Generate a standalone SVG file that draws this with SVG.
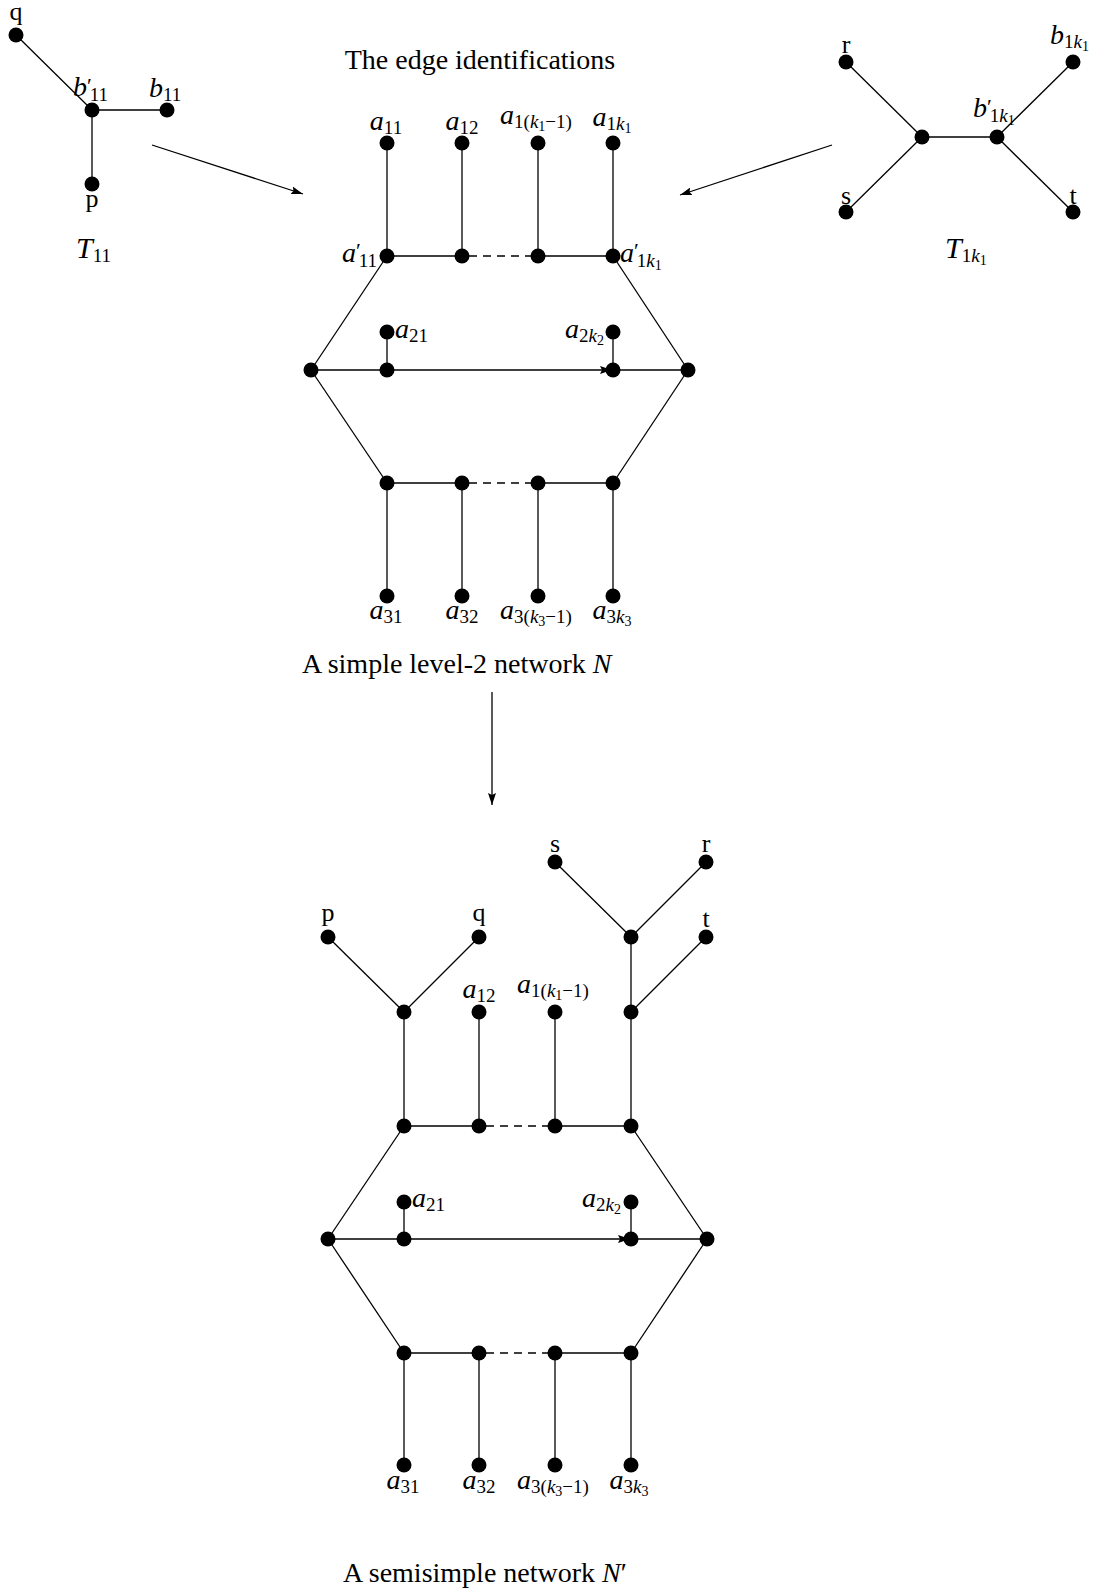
<svg xmlns="http://www.w3.org/2000/svg" width="1099" height="1589" viewBox="0 0 1099 1589">
<style>
text{font-family:"Liberation Serif","Times New Roman",serif;fill:#000;font-size:26px}
.cap{font-size:28px}
.i{font-style:italic}
.a{font-size:28px;font-style:italic}
.s{font-size:19px}
.ss{font-size:14px}
.pr{font-size:22px}
.e{stroke:#000;stroke-width:1.3;fill:none}
.d{stroke:#000;stroke-width:1.3;stroke-dasharray:8 6;fill:none}
.n{fill:#000}
</style>
<defs>
<marker id="ah" viewBox="0 0 12 8" refX="12" refY="4" markerWidth="12" markerHeight="8" markerUnits="userSpaceOnUse" orient="auto">
<path d="M0,0 L12,4 L0,8 L2,4 z" fill="#000"/>
</marker>
</defs>

<g id="connectors">
<line class="e" x1="16" y1="35" x2="92" y2="110"/>
<line class="e" x1="92" y1="110" x2="167" y2="110"/>
<line class="e" x1="92" y1="110" x2="92" y2="184"/>
<line class="e" x1="846" y1="62" x2="922" y2="137"/>
<line class="e" x1="846" y1="212" x2="922" y2="137"/>
<line class="e" x1="922" y1="137" x2="997" y2="137"/>
<line class="e" x1="997" y1="137" x2="1073" y2="62"/>
<line class="e" x1="997" y1="137" x2="1073" y2="212"/>
<line class="e" x1="152" y1="145" x2="303" y2="194" marker-end="url(#ah)"/>
<line class="e" x1="832" y1="145" x2="680" y2="195" marker-end="url(#ah)"/>
<line class="e" x1="492" y1="692" x2="492" y2="805" marker-end="url(#ah)"/>
<line class="e" x1="387" y1="143" x2="387" y2="256"/>
<line class="e" x1="462" y1="143" x2="462" y2="256"/>
<line class="e" x1="538" y1="143" x2="538" y2="256"/>
<line class="e" x1="613" y1="143" x2="613" y2="256"/>
<line class="e" x1="387" y1="256" x2="462" y2="256"/>
<line class="d" x1="469" y1="256" x2="538" y2="256"/>
<line class="e" x1="538" y1="256" x2="613" y2="256"/>
<line class="e" x1="387" y1="256" x2="311" y2="370"/>
<line class="e" x1="613" y1="256" x2="688" y2="370"/>
<line class="e" x1="311" y1="370" x2="387" y2="483"/>
<line class="e" x1="688" y1="370" x2="613" y2="483"/>
<line class="e" x1="311" y1="370" x2="387" y2="370"/>
<line class="e" x1="387" y1="370" x2="612" y2="370" marker-end="url(#ah)"/>
<line class="e" x1="613" y1="370" x2="688" y2="370"/>
<line class="e" x1="387" y1="332" x2="387" y2="370"/>
<line class="e" x1="613" y1="332" x2="613" y2="370"/>
<line class="e" x1="387" y1="483" x2="462" y2="483"/>
<line class="d" x1="469" y1="483" x2="538" y2="483"/>
<line class="e" x1="538" y1="483" x2="613" y2="483"/>
<line class="e" x1="387" y1="483" x2="387" y2="596"/>
<line class="e" x1="462" y1="483" x2="462" y2="596"/>
<line class="e" x1="538" y1="483" x2="538" y2="596"/>
<line class="e" x1="613" y1="483" x2="613" y2="596"/>
<line class="e" x1="328" y1="937" x2="404" y2="1012"/>
<line class="e" x1="479" y1="937" x2="404" y2="1012"/>
<line class="e" x1="555" y1="862" x2="631" y2="937"/>
<line class="e" x1="706" y1="862" x2="631" y2="937"/>
<line class="e" x1="631" y1="937" x2="631" y2="1012"/>
<line class="e" x1="706" y1="937" x2="631" y2="1012"/>
<line class="e" x1="404" y1="1012" x2="404" y2="1126"/>
<line class="e" x1="479" y1="1012" x2="479" y2="1126"/>
<line class="e" x1="555" y1="1012" x2="555" y2="1126"/>
<line class="e" x1="631" y1="1012" x2="631" y2="1126"/>
<line class="e" x1="404" y1="1126" x2="479" y2="1126"/>
<line class="d" x1="486" y1="1126" x2="555" y2="1126"/>
<line class="e" x1="555" y1="1126" x2="631" y2="1126"/>
<line class="e" x1="404" y1="1126" x2="328" y2="1239"/>
<line class="e" x1="631" y1="1126" x2="707" y2="1239"/>
<line class="e" x1="328" y1="1239" x2="404" y2="1353"/>
<line class="e" x1="707" y1="1239" x2="631" y2="1353"/>
<line class="e" x1="328" y1="1239" x2="404" y2="1239"/>
<line class="e" x1="404" y1="1239" x2="630" y2="1239" marker-end="url(#ah)"/>
<line class="e" x1="631" y1="1239" x2="707" y2="1239"/>
<line class="e" x1="404" y1="1202" x2="404" y2="1239"/>
<line class="e" x1="631" y1="1202" x2="631" y2="1239"/>
<line class="e" x1="404" y1="1353" x2="479" y2="1353"/>
<line class="d" x1="486" y1="1353" x2="555" y2="1353"/>
<line class="e" x1="555" y1="1353" x2="631" y2="1353"/>
<line class="e" x1="404" y1="1353" x2="404" y2="1465"/>
<line class="e" x1="479" y1="1353" x2="479" y2="1465"/>
<line class="e" x1="555" y1="1353" x2="555" y2="1465"/>
<line class="e" x1="631" y1="1353" x2="631" y2="1465"/>
</g>

<g id="t11-q"><circle class="n" cx="16" cy="35" r="7.5"/><text x="16" y="20" text-anchor="middle">q</text></g>
<g id="t11-b11p"><circle class="n" cx="92" cy="110" r="7.5"/><text x="73" y="96"><tspan class="a">b</tspan><tspan class="pr" dy="-3">′</tspan><tspan class="s" dx="-2" dy="8">11</tspan></text></g>
<g id="t11-b11"><circle class="n" cx="167" cy="110" r="7.5"/><text x="149" y="97"><tspan class="a">b</tspan><tspan class="s" dy="4">11</tspan></text></g>
<g id="t11-p"><circle class="n" cx="92" cy="184" r="7.5"/><text x="92" y="207" text-anchor="middle">p</text></g>
<g id="t11-label"><text class="cap" x="76" y="258"><tspan class="i" font-size="30">T</tspan><tspan class="s" dy="4">11</tspan></text></g>

<g id="t1k-r"><circle class="n" cx="846" cy="62" r="7.5"/><text x="846" y="53" text-anchor="middle">r</text></g>
<g id="t1k-u"><circle class="n" cx="922" cy="137" r="7.5"/></g>
<g id="t1k-bp"><circle class="n" cx="997" cy="137" r="7.5"/><text x="973" y="117"><tspan class="a">b</tspan><tspan class="pr" dy="-3">′</tspan><tspan class="s" dx="-2" dy="8">1</tspan><tspan class="s i">k</tspan><tspan class="ss" dy="3">1</tspan></text></g>
<g id="t1k-b"><circle class="n" cx="1073" cy="62" r="7.5"/><text x="1050" y="44"><tspan class="a">b</tspan><tspan class="s" dy="4">1</tspan><tspan class="s i">k</tspan><tspan class="ss" dy="3">1</tspan></text></g>
<g id="t1k-s"><circle class="n" cx="846" cy="212" r="7.5"/><text x="846" y="204" text-anchor="middle">s</text></g>
<g id="t1k-t"><circle class="n" cx="1073" cy="212" r="7.5"/><text x="1073" y="204" text-anchor="middle">t</text></g>
<g id="t1k-label"><text class="cap" x="945" y="258"><tspan class="i" font-size="30">T</tspan><tspan class="s" dy="4">1</tspan><tspan class="s i">k</tspan><tspan class="ss" dy="3">1</tspan></text></g>

<g id="title"><text class="cap" x="480" y="69" text-anchor="middle">The edge identifications</text></g>

<g id="n-a11"><circle class="n" cx="387" cy="143" r="7.5"/><text x="386" y="130" text-anchor="middle"><tspan class="a">a</tspan><tspan class="s" dy="4">11</tspan></text></g>
<g id="n-a12"><circle class="n" cx="462" cy="143" r="7.5"/><text x="462" y="130" text-anchor="middle"><tspan class="a">a</tspan><tspan class="s" dy="4">12</tspan></text></g>
<g id="n-a1k-1"><circle class="n" cx="538" cy="143" r="7.5"/><text x="536" y="124" text-anchor="middle"><tspan class="a">a</tspan><tspan class="s" dy="4">1(</tspan><tspan class="s i">k</tspan><tspan class="ss" dy="3">1</tspan><tspan class="s" dy="-3">−1)</tspan></text></g>
<g id="n-a1k"><circle class="n" cx="613" cy="143" r="7.5"/><text x="612" y="126" text-anchor="middle"><tspan class="a">a</tspan><tspan class="s" dy="4">1</tspan><tspan class="s i">k</tspan><tspan class="ss" dy="3">1</tspan></text></g>
<g id="n-ap11"><circle class="n" cx="387" cy="256" r="7.5"/><text x="377" y="262" text-anchor="end"><tspan class="a">a</tspan><tspan class="pr" dy="-4">′</tspan><tspan class="s" dx="-2" dy="9">11</tspan></text></g>
<g id="n-r2"><circle class="n" cx="462" cy="256" r="7.5"/></g>
<g id="n-r3"><circle class="n" cx="538" cy="256" r="7.5"/></g>
<g id="n-ap1k"><circle class="n" cx="613" cy="256" r="7.5"/><text x="620" y="262"><tspan class="a">a</tspan><tspan class="pr" dy="-4">′</tspan><tspan class="s" dx="-2" dy="9">1</tspan><tspan class="s i">k</tspan><tspan class="ss" dy="3">1</tspan></text></g>
<g id="n-L"><circle class="n" cx="311" cy="370" r="7.5"/></g>
<g id="n-m1"><circle class="n" cx="387" cy="370" r="7.5"/></g>
<g id="n-m2"><circle class="n" cx="613" cy="370" r="7.5"/></g>
<g id="n-R"><circle class="n" cx="688" cy="370" r="7.5"/></g>
<g id="n-a21"><circle class="n" cx="387" cy="332" r="7.5"/><text x="395" y="338"><tspan class="a">a</tspan><tspan class="s" dy="4">21</tspan></text></g>
<g id="n-a2k"><circle class="n" cx="613" cy="332" r="7.5"/><text x="604" y="338" text-anchor="end"><tspan class="a">a</tspan><tspan class="s" dy="4">2</tspan><tspan class="s i">k</tspan><tspan class="ss" dy="3">2</tspan></text></g>
<g id="n-b1"><circle class="n" cx="387" cy="483" r="7.5"/></g>
<g id="n-b2"><circle class="n" cx="462" cy="483" r="7.5"/></g>
<g id="n-b3"><circle class="n" cx="538" cy="483" r="7.5"/></g>
<g id="n-b4"><circle class="n" cx="613" cy="483" r="7.5"/></g>
<g id="n-a31"><circle class="n" cx="387" cy="596" r="7.5"/><text x="386" y="619" text-anchor="middle"><tspan class="a">a</tspan><tspan class="s" dy="4">31</tspan></text></g>
<g id="n-a32"><circle class="n" cx="462" cy="596" r="7.5"/><text x="462" y="619" text-anchor="middle"><tspan class="a">a</tspan><tspan class="s" dy="4">32</tspan></text></g>
<g id="n-a3k-1"><circle class="n" cx="538" cy="596" r="7.5"/><text x="536" y="619" text-anchor="middle"><tspan class="a">a</tspan><tspan class="s" dy="4">3(</tspan><tspan class="s i">k</tspan><tspan class="ss" dy="3">3</tspan><tspan class="s" dy="-3">−1)</tspan></text></g>
<g id="n-a3k"><circle class="n" cx="613" cy="596" r="7.5"/><text x="612" y="619" text-anchor="middle"><tspan class="a">a</tspan><tspan class="s" dy="4">3</tspan><tspan class="s i">k</tspan><tspan class="ss" dy="3">3</tspan></text></g>
<g id="caption-n"><text class="cap" x="302" y="673">A simple level-2 network <tspan class="i">N</tspan></text></g>

<g id="m-p"><circle class="n" cx="328" cy="937" r="7.5"/><text x="328" y="921" text-anchor="middle">p</text></g>
<g id="m-q"><circle class="n" cx="479" cy="937" r="7.5"/><text x="479" y="921" text-anchor="middle">q</text></g>
<g id="m-j1"><circle class="n" cx="404" cy="1012" r="7.5"/></g>
<g id="m-s"><circle class="n" cx="555" cy="862" r="7.5"/><text x="555" y="852" text-anchor="middle">s</text></g>
<g id="m-r"><circle class="n" cx="706" cy="862" r="7.5"/><text x="706" y="852" text-anchor="middle">r</text></g>
<g id="m-j2"><circle class="n" cx="631" cy="937" r="7.5"/></g>
<g id="m-t"><circle class="n" cx="706" cy="937" r="7.5"/><text x="706" y="927" text-anchor="middle">t</text></g>
<g id="m-j3"><circle class="n" cx="631" cy="1012" r="7.5"/></g>
<g id="m-a12"><circle class="n" cx="479" cy="1012" r="7.5"/><text x="479" y="998" text-anchor="middle"><tspan class="a">a</tspan><tspan class="s" dy="4">12</tspan></text></g>
<g id="m-a1k-1"><circle class="n" cx="555" cy="1012" r="7.5"/><text x="553" y="993" text-anchor="middle"><tspan class="a">a</tspan><tspan class="s" dy="4">1(</tspan><tspan class="s i">k</tspan><tspan class="ss" dy="3">1</tspan><tspan class="s" dy="-3">−1)</tspan></text></g>
<g id="m-r1"><circle class="n" cx="404" cy="1126" r="7.5"/></g>
<g id="m-r2"><circle class="n" cx="479" cy="1126" r="7.5"/></g>
<g id="m-r3"><circle class="n" cx="555" cy="1126" r="7.5"/></g>
<g id="m-r4"><circle class="n" cx="631" cy="1126" r="7.5"/></g>
<g id="m-L"><circle class="n" cx="328" cy="1239" r="7.5"/></g>
<g id="m-m1"><circle class="n" cx="404" cy="1239" r="7.5"/></g>
<g id="m-m2"><circle class="n" cx="631" cy="1239" r="7.5"/></g>
<g id="m-R"><circle class="n" cx="707" cy="1239" r="7.5"/></g>
<g id="m-a21"><circle class="n" cx="404" cy="1202" r="7.5"/><text x="412" y="1207"><tspan class="a">a</tspan><tspan class="s" dy="4">21</tspan></text></g>
<g id="m-a2k"><circle class="n" cx="631" cy="1202" r="7.5"/><text x="621" y="1207" text-anchor="end"><tspan class="a">a</tspan><tspan class="s" dy="4">2</tspan><tspan class="s i">k</tspan><tspan class="ss" dy="3">2</tspan></text></g>
<g id="m-b1"><circle class="n" cx="404" cy="1353" r="7.5"/></g>
<g id="m-b2"><circle class="n" cx="479" cy="1353" r="7.5"/></g>
<g id="m-b3"><circle class="n" cx="555" cy="1353" r="7.5"/></g>
<g id="m-b4"><circle class="n" cx="631" cy="1353" r="7.5"/></g>
<g id="m-a31"><circle class="n" cx="404" cy="1465" r="7.5"/><text x="403" y="1489" text-anchor="middle"><tspan class="a">a</tspan><tspan class="s" dy="4">31</tspan></text></g>
<g id="m-a32"><circle class="n" cx="479" cy="1465" r="7.5"/><text x="479" y="1489" text-anchor="middle"><tspan class="a">a</tspan><tspan class="s" dy="4">32</tspan></text></g>
<g id="m-a3k-1"><circle class="n" cx="555" cy="1465" r="7.5"/><text x="553" y="1489" text-anchor="middle"><tspan class="a">a</tspan><tspan class="s" dy="4">3(</tspan><tspan class="s i">k</tspan><tspan class="ss" dy="3">3</tspan><tspan class="s" dy="-3">−1)</tspan></text></g>
<g id="m-a3k"><circle class="n" cx="631" cy="1465" r="7.5"/><text x="629" y="1489" text-anchor="middle"><tspan class="a">a</tspan><tspan class="s" dy="4">3</tspan><tspan class="s i">k</tspan><tspan class="ss" dy="3">3</tspan></text></g>
<g id="caption-m"><text class="cap" x="485" y="1582" text-anchor="middle">A semisimple network <tspan class="i">N</tspan>′</text></g>
</svg>
